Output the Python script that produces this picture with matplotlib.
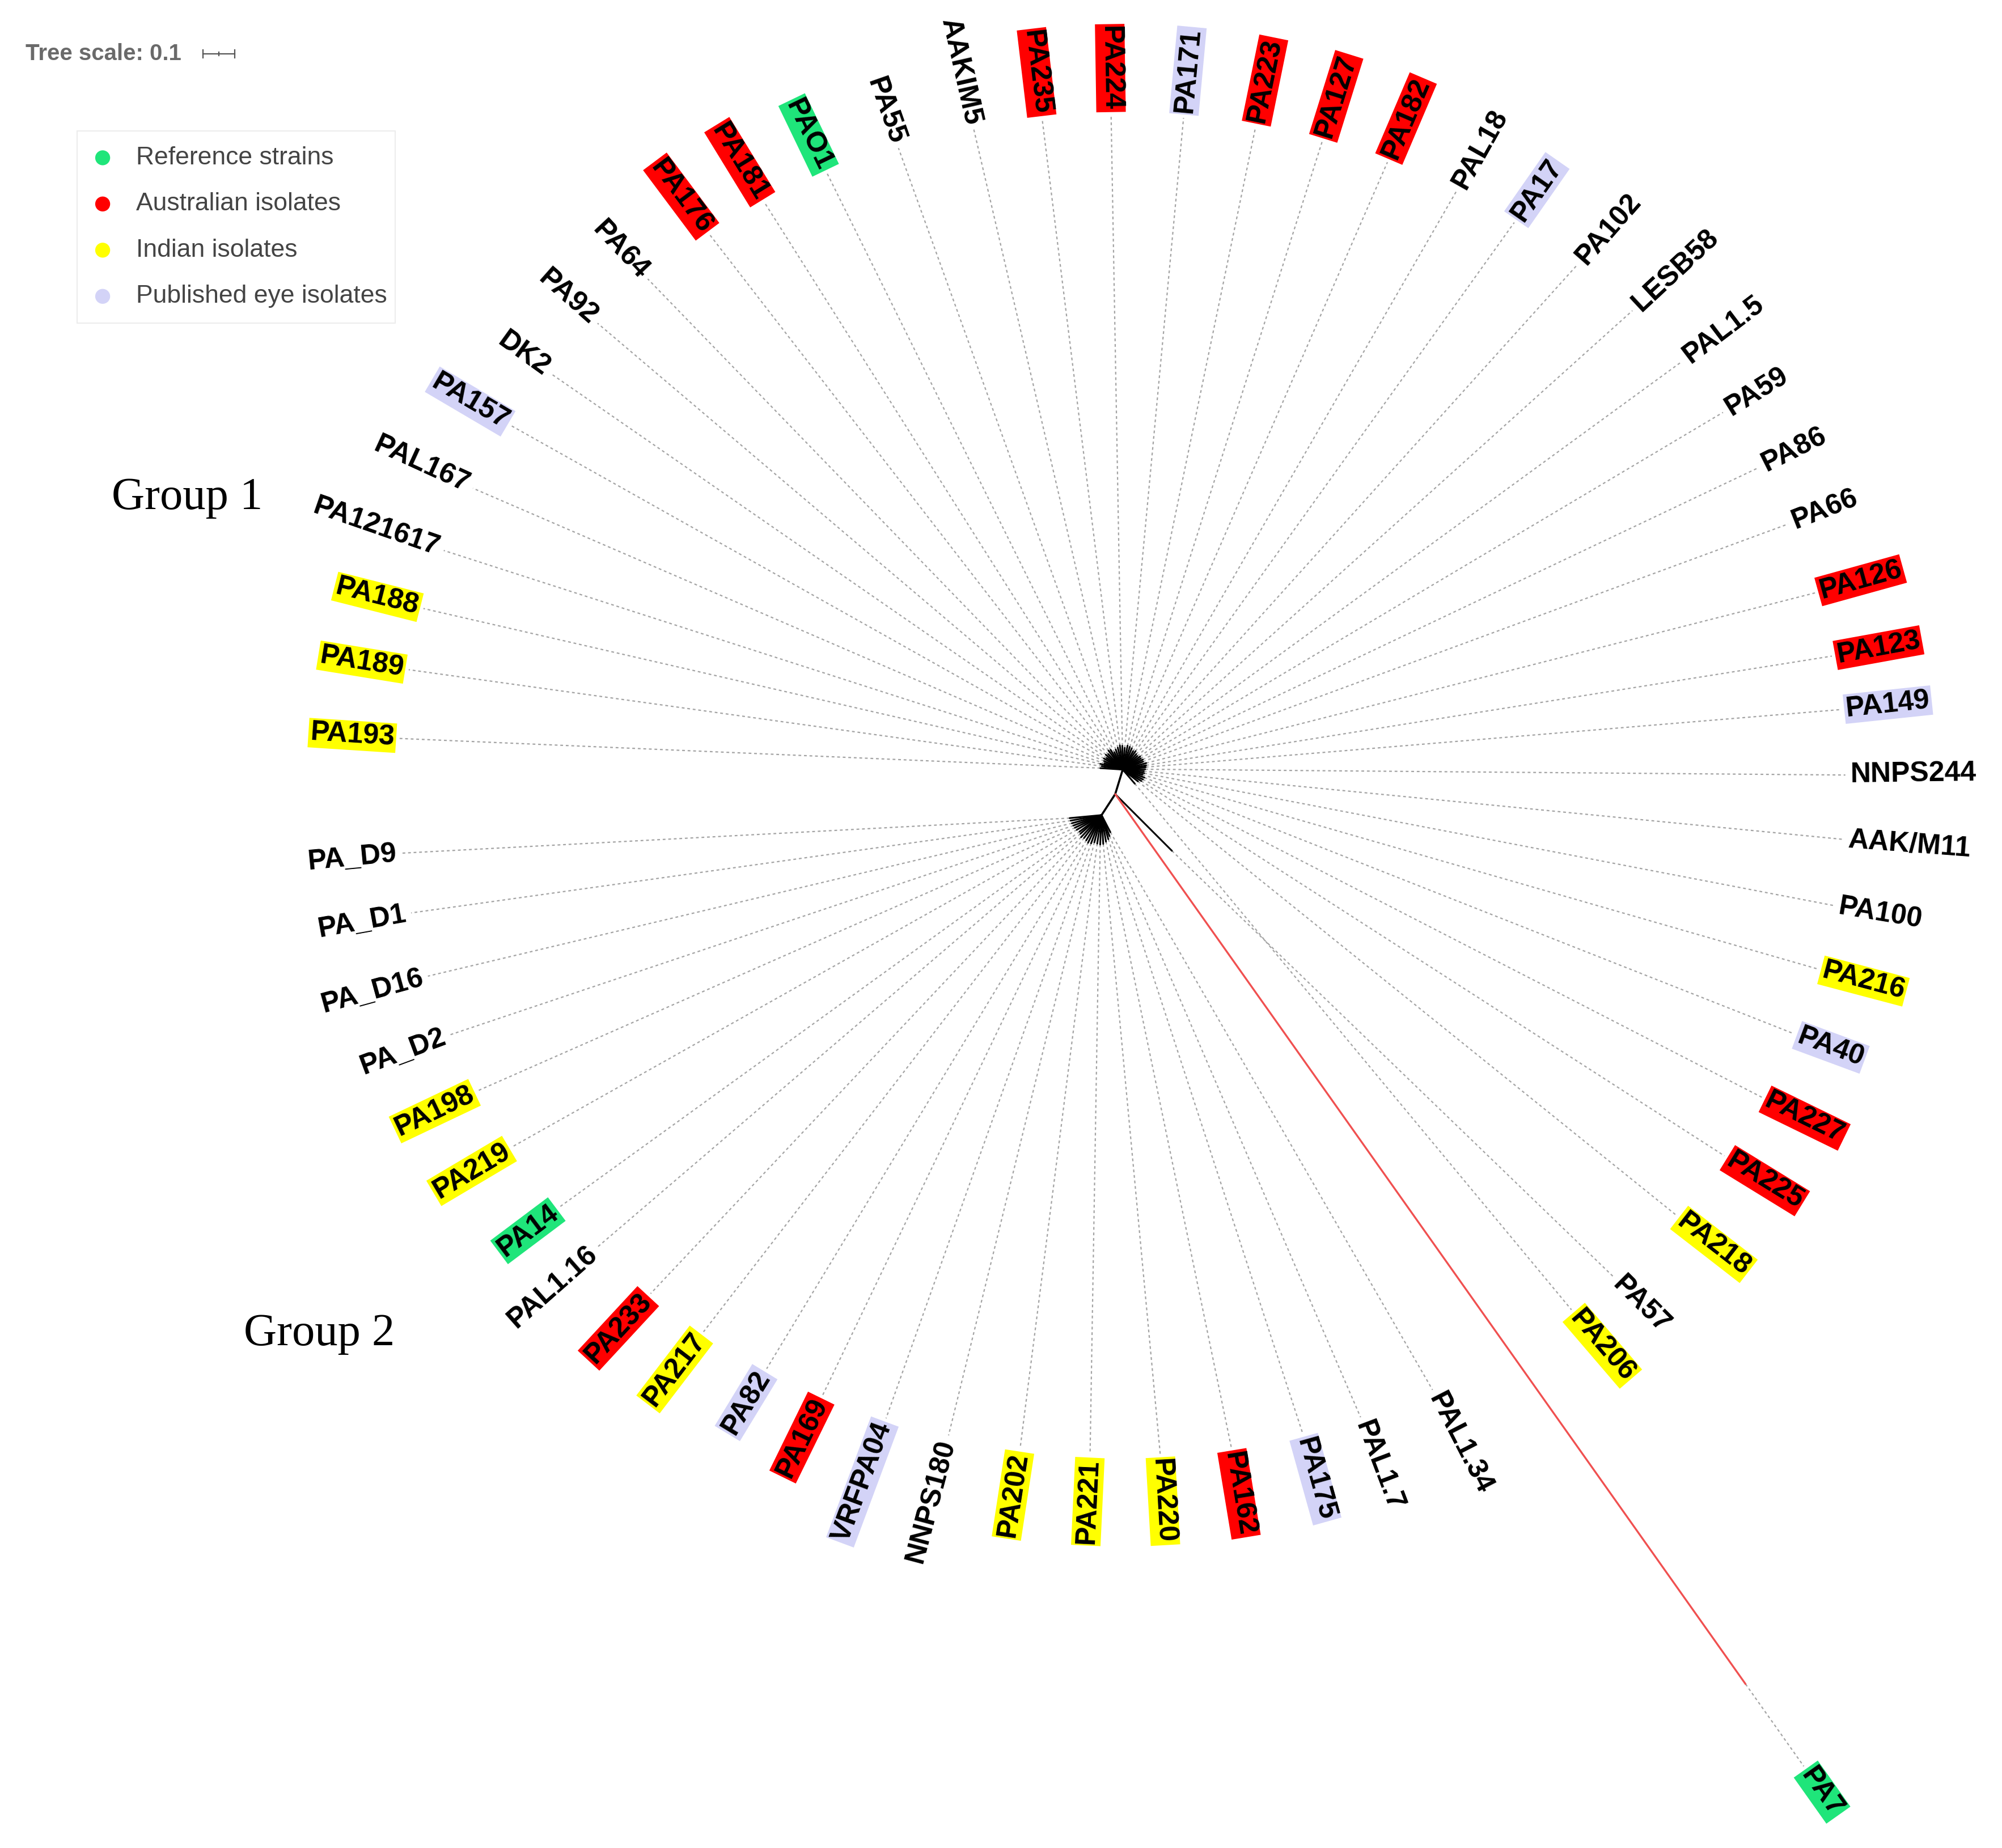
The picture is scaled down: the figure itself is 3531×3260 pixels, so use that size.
"""
Unrooted phylogenetic tree of P. aeruginosa isolates (iTOL style) with
aligned, colour-coded leaf labels.
"""

import matplotlib.pyplot as plt
import numpy as np
from matplotlib.patches import Rectangle

# ---- data -----------------------------------------------------------------
# leaves listed clockwise, starting from the lowest label of group 1
names = [
    "PA193", "PA189", "PA188", "PA121617", "PAL167", "PA157", "DK2", "PA92",
    "PA64", "PA176", "PA181", "PAO1", "PA55", "AAKIM5", "PA235", "PA224",
    "PA171", "PA223", "PA127", "PA182", "PAL18", "PA17", "PA102", "LESB58",
    "PAL1.5", "PA59", "PA86", "PA66", "PA126", "PA123", "PA149", "NNPS244",
    "AAK/M11", "PA100", "PA216", "PA40", "PA227", "PA225", "PA218", "PA57",
    "PA206", "PA7", "PAL1.34", "PAL1.7", "PA175", "PA162", "PA220", "PA221",
    "PA202", "NNPS180", "VRFPA04", "PA169", "PA82", "PA217", "PA233",
    "PAL1.16", "PA14", "PA219", "PA198", "PA_D2", "PA_D16", "PA_D1", "PA_D9",
]
kinds = [
    "ind", "ind", "ind", "", "", "eye", "", "",
    "", "aus", "aus", "ref", "", "", "aus", "aus",
    "eye", "aus", "aus", "aus", "", "eye", "", "",
    "", "", "", "", "aus", "aus", "eye", "",
    "", "", "ind", "eye", "aus", "aus", "ind", "",
    "ind", "ref", "", "", "eye", "aus", "ind", "ind",
    "ind", "", "eye", "aus", "eye", "ind", "aus",
    "", "ref", "ind", "ind", "", "", "", "",
]
# direction of each leaf / label (degrees, counter-clockwise from east)
angles = [
    176.3, 170.8, 165.8, 160.9, 155.4, 149.5, 144.2, 138.6,
    133.1, 126.8, 121.5, 115.7, 109.3, 102.7, 96.8, 90.9,
    84.7, 78.5, 72.7, 66.9, 60.6, 55.1, 48.8, 42.9,
    37.1, 31.8, 26.5, 21.4, 15.5, 10.3, 6.0, 0.8,
    -4.3, -9.6, -14.8, -20.3, -26.0, -31.6, -37.8, -45.0,
    -49.4, -54.7, -62.8, -69.3, -74.4, -80.6, -86.7, -92.7,
    -98.7, -104.9, -110.4, -116.1, -121.3, -127.4, -132.8,
    -138.6, -143.1, -149.3, -154.6, -159.6, -164.6, -169.8, -174.6,
]
# terminal branch lengths (substitutions / site)
branch_len = [
    0.070, 0.066, 0.072, 0.060, 0.064, 0.068, 0.062, 0.070,
    0.066, 0.074, 0.072, 0.060, 0.066, 0.070, 0.076, 0.074,
    0.068, 0.076, 0.074, 0.072, 0.066, 0.070, 0.064, 0.062,
    0.068, 0.066, 0.070, 0.068, 0.076, 0.074, 0.072, 0.070,
    0.066, 0.068, 0.064, 0.072, 0.070, 0.068, 0.060, 0.250,
    0.058, 3.400, 0.060, 0.070, 0.078, 0.084, 0.090, 0.092,
    0.090, 0.088, 0.094, 0.096, 0.092, 0.090, 0.094,
    0.088, 0.086, 0.090, 0.092, 0.094, 0.096, 0.098, 0.100,
]
# which node a leaf hangs from: 1 = clade 1, 2 = clade 2, 0 = central node
clade = [1] * 39 + [0, 1, 0] + [2] * 21

# internal edges from the central node to the two clades
clade_len = [0.080, 0.078]
clade_angle = [73.0, 237.0]

kind_colors = {"ref": "#1fe57a", "aus": "#ff0000", "ind": "#ffff00", "eye": "#d3d3f7"}
legend_kinds = ["ref", "aus", "ind", "eye"]
legend_labels = ["Reference strains", "Australian isolates",
                 "Indian isolates", "Published eye isolates"]
tree_scale = 0.1

# ---- layout ---------------------------------------------------------------
PX = 250.0                 # canvas units per tree unit
CENTER = np.array([869.0, 619.0])
RING_C = np.array([874.0, 612.0])
RING_A, RING_B = 568.0, 526.0
OUTLIER_GUIDE = 0.33

LABEL_FONT = "Liberation Sans"


def unit(deg):
    t = np.radians(deg)
    return np.array([np.cos(t), -np.sin(t)])


def ring_point(deg):
    t = np.radians(deg)
    r = RING_A * RING_B / np.hypot(RING_B * np.cos(t), RING_A * np.sin(t))
    return RING_C + r * unit(deg)


fig = plt.figure(figsize=(35.31, 32.60), dpi=100)
ax = fig.add_axes([0, 0, 1, 1])
ax.set_xlim(0, 1560)
ax.set_ylim(1440.5, 0)
ax.axis("off")

hubs = {0: CENTER}
for k in (1, 2):
    hub = CENTER + clade_len[k - 1] * PX * unit(clade_angle[k - 1])
    hubs[k] = hub
    ax.plot([CENTER[0], hub[0]], [CENTER[1], hub[1]], color="black",
            lw=2.6, solid_capstyle="round", zorder=3)

for name, kind, ang, blen, cl in zip(names, kinds, angles, branch_len, clade):
    start = hubs[cl]
    tip = start + blen * PX * unit(ang)
    is_outlier = blen > 1.0
    ax.plot([start[0], tip[0]], [start[1], tip[1]],
            color="#f05050" if is_outlier else "black",
            lw=2.4 if is_outlier else 2.2, solid_capstyle="round", zorder=3)

    if is_outlier:
        anchor = tip + OUTLIER_GUIDE * PX * unit(ang)
    else:
        anchor = ring_point(ang)
    guide_end = anchor - 4 * unit(ang)
    ax.plot([tip[0], guide_end[0]], [tip[1], guide_end[1]], color="#a4a4a4",
            lw=1.6, linestyle=(0, (2.2, 2.2)), zorder=1)

    left_side = np.cos(np.radians(ang)) < 0
    rot = ang - 180 if left_side else ang
    box = None
    if kind:
        box = dict(boxstyle="square,pad=0.06", fc=kind_colors[kind], ec="none")
    ax.text(anchor[0], anchor[1], name, rotation=rot, rotation_mode="anchor",
            ha="right" if left_side else "left", va="center",
            fontsize=36, fontweight="bold", family=LABEL_FONT,
            color="black", bbox=box, zorder=4)

# ---- tree scale -----------------------------------------------------------
ax.text(20, 42, "Tree scale: 0.1", fontsize=29, fontweight="bold",
        family=LABEL_FONT, color="#6a6a6a", ha="left", va="center")
x0 = 158
x1 = x0 + tree_scale * PX
ax.plot([x0, x1], [42, 42], color="#555555", lw=1.6)
for xe, h in ((x0, 3), (x0 + (x1 - x0) / 2, 1.5), (x1, 3)):
    ax.plot([xe, xe], [42 - h, 42 + h], color="#555555", lw=1.6)

# ---- legend ---------------------------------------------------------------
ax.add_patch(Rectangle((60, 102), 248, 150, fill=False, ec="#ececec", lw=1.5))
for i, (k, lab) in enumerate(zip(legend_kinds, legend_labels)):
    y = 123 + 36 * i
    ax.scatter([80], [y], s=360, color=kind_colors[k], edgecolors="none", zorder=5)
    ax.text(106, y, lab, fontsize=32, family=LABEL_FONT, color="#444444",
            ha="left", va="center")

# ---- group annotations ----------------------------------------------------
ax.text(146, 388, "Group 1", fontsize=58, family="Liberation Serif",
        ha="center", va="center", color="black")
ax.text(249, 1040, "Group 2", fontsize=58, family="Liberation Serif",
        ha="center", va="center", color="black")

fig.savefig("out.png", dpi=100, facecolor="white")
